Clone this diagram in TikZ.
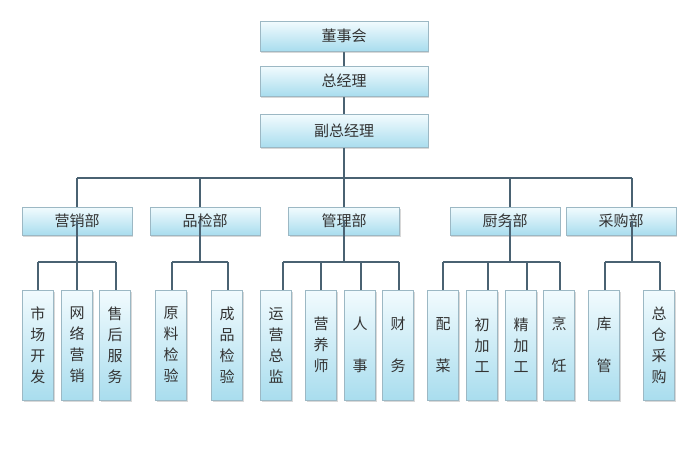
\documentclass[tikz,border=0pt]{standalone}
\usepackage{fontspec}
\setmainfont{Noto Sans CJK SC}
\usetikzlibrary{shadows}
\definecolor{ln}{HTML}{4A6272}
\definecolor{bxt}{HTML}{F2FBFE}
\definecolor{bxb}{HTML}{A9DDEE}
\definecolor{bd}{HTML}{9CB8C4}
\tikzset{
 bx/.style={draw=bd,line width=0.6pt,top color=bxt,bottom color=bxb,drop shadow={shadow xshift=1pt,shadow yshift=-1.5pt,opacity=0.3},inner sep=0pt,font=\fontsize{15}{17}\selectfont,text=black!80},
 lf/.style={bx,minimum width=31pt,minimum height=110pt,align=center,font=\fontsize{15}{21}\selectfont},
 cn/.style={draw=ln,line width=2pt}
}
\begin{document}
\begin{tikzpicture}[x=1pt,y=-1pt]
\useasboundingbox (0,0) rectangle (691,451);
\fill[white] (0,0) rectangle (691,451);
\draw[cn] (344,36) -- (344,131);
\draw[cn] (77,178) -- (632,178);
\foreach \x in {77,200,344,510,632}{\draw[cn] (\x,178) -- (\x,221);}
\node[bx,minimum width=168pt,minimum height=30pt] (a) at (344,36) {董事会};
\node[bx,minimum width=168pt,minimum height=30pt] (b) at (344,81) {总经理};
\node[bx,minimum width=168pt,minimum height=33pt] (c) at (344,131) {副总经理};
\draw[cn] (c.south) -- (344,178);
\node[bx,minimum width=110pt,minimum height=28pt] (d1) at (77,221) {营销部};
\node[bx,minimum width=110pt,minimum height=28pt] (d2) at (205,221) {品检部};
\node[bx,minimum width=111pt,minimum height=28pt] (d3) at (344,221) {管理部};
\node[bx,minimum width=110pt,minimum height=28pt] (d4) at (505,221) {厨务部};
\node[bx,minimum width=110pt,minimum height=28pt] (d5) at (621,221) {采购部};
\foreach \j/\lo/\hi in {77/38/116,200/172/228,344/283/399,510/443/560,632/605/660}{
 \draw[cn] (\j,221) -- (\j,262);
 \draw[cn] (\lo,262) -- (\hi,262);
}
\foreach \x in {38,77,116,172,228,283,321,361,399,443,488,527,560,605,660}{
 \draw[cn] (\x,262) -- (\x,300);
}
\node[lf] (l1) at (38,345) {市\\场\\开\\发};
\node[lf] (l2) at (77,345) {网\\络\\营\\销};
\node[lf] (l3) at (115,345) {售\\后\\服\\务};
\node[lf] (l4) at (171,345) {原\\料\\检\\验};
\node[lf] (l5) at (227,345) {成\\品\\检\\验};
\node[lf] (l6) at (276,345) {运\\营\\总\\监};
\node[lf] (l7) at (321,345) {营\\养\\师};
\node[lf] (l8) at (360,345) {人\\\\事};
\node[lf] (l9) at (398,345) {财\\\\务};
\node[lf] (l10) at (443,345) {配\\\\菜};
\node[lf] (l11) at (482,345) {初\\加\\工};
\node[lf] (l12) at (521,345) {精\\加\\工};
\node[lf] (l13) at (559,345) {烹\\\\饪};
\node[lf] (l14) at (604,345) {库\\\\管};
\node[lf] (l15) at (659,345) {总\\仓\\采\\购};
\end{tikzpicture}
\end{document}
